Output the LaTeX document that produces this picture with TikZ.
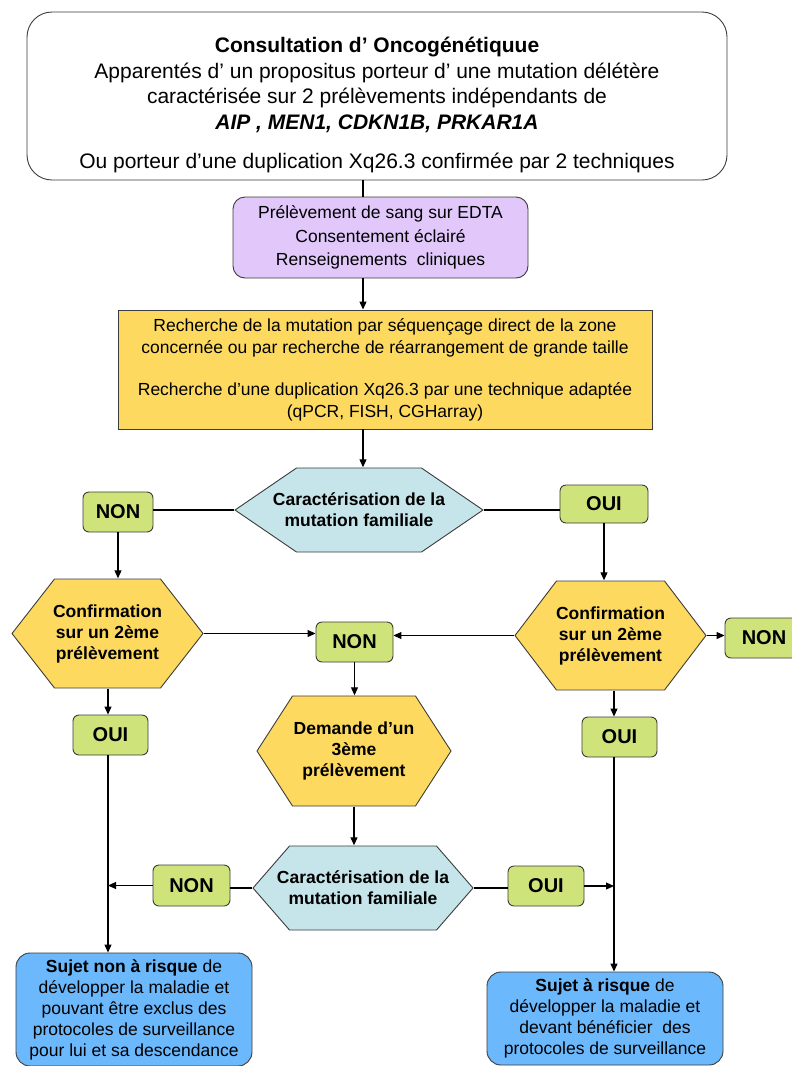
\documentclass[tikz,border=0pt]{standalone}
\usepackage{fontspec}
\setmainfont{Liberation Sans}
\usetikzlibrary{arrows.meta}

\definecolor{lavender}{RGB}{225,199,250}
\definecolor{gold}{RGB}{253,218,95}
\definecolor{paleblue}{RGB}{197,229,234}
\definecolor{lime}{RGB}{206,227,122}
\definecolor{skyblue}{RGB}{108,184,252}
\definecolor{edge}{RGB}{60,60,60}

\begin{document}
\begin{tikzpicture}[x=1pt,y=-1pt,
  box/.style={draw=edge, line width=0.9pt, align=center, inner sep=0pt},
  answer/.style={box, fill=lime, rounded corners=6pt, font=\fontsize{20}{24}\selectfont\bfseries},
  hexa/.style n args={4}{inner sep=0pt, align=center, minimum width=#1+1, minimum height=#2+1,
    font=\fontsize{17.5}{21}\selectfont\bfseries,
    path picture={\draw[draw=edge, line width=0.9pt, fill=#4]
      ([xshift=0.5pt]path picture bounding box.west)
      -- ([xshift=#3pt,yshift=-0.5pt]path picture bounding box.north west)
      -- ([xshift=-#3pt,yshift=-0.5pt]path picture bounding box.north east)
      -- ([xshift=-0.5pt]path picture bounding box.east)
      -- ([xshift=-#3pt,yshift=0.5pt]path picture bounding box.south east)
      -- ([xshift=#3pt,yshift=0.5pt]path picture bounding box.south west) -- cycle;}},
  link/.style={line width=1.1pt, -{Triangle[length=8pt,width=7pt]}},
  wire/.style={line width=1.1pt}]

\useasboundingbox (0,0) rectangle (792,1066);

\coordinate (spine) at (363,0);
\coordinate (lcol) at (108,0);
\coordinate (rcol) at (614,0);

% consultation
\node[box, rounded corners=25pt, minimum width=700, minimum height=168] (top) at (377,96) {};
\node[align=center, font=\fontsize{21}{25.5}\selectfont] (toptxt) at (377,105)
  {\textbf{Consultation d’ Oncogénétiquue}\\
   Apparentés d’ un propositus porteur d’ une mutation délétère\\
   caractérisée sur 2 prélèvements indépendants de\\
   \textbf{\textit{AIP , MEN1, CDKN1B, PRKAR1A}}\\[14pt]
   Ou porteur d’une duplication Xq26.3 confirmée par 2 techniques};

\node[box, fill=lavender, rounded corners=12pt, minimum width=295, minimum height=81,
  font=\fontsize{17.5}{23.5}\selectfont] (prel) at (380.5,237.5)
  {Prélèvement de sang sur EDTA\\ Consentement éclairé\\ Renseignements\ \ cliniques};

\node[box, fill=gold, minimum width=534, minimum height=119,
  font=\fontsize{17.5}{22}\selectfont] (rech) at (385,369.5)
  {Recherche de la mutation par séquençage direct de la zone\\
   concernée ou par recherche de réarrangement de grande taille\\[20pt]
   Recherche d’une duplication Xq26.3 par une technique adaptée\\
   (qPCR, FISH, CGHarray)};

% decisions
\node[hexa={248}{84}{62}{paleblue}] (carac1) at (359,510) {Caractérisation de la\\ mutation familiale};
\node[hexa={191}{109}{43}{gold}] (conf1) at (107.5,633.5) {Confirmation\\ sur un 2ème\\ prélèvement};
\node[hexa={191}{109}{42}{gold}] (conf2) at (610.5,635.5) {Confirmation\\ sur un 2ème\\ prélèvement};
\node[hexa={194}{110}{36}{gold}] (dem) at (354,751) {Demande d’un\\ 3ème\\ prélèvement};
\node[hexa={220}{84}{37}{paleblue}] (carac2) at (363,888) {Caractérisation de la\\ mutation familiale};

% answers
\node[answer, minimum width=70, minimum height=40] (non1) at (118,512) {NON};
\node[answer, minimum width=88, minimum height=38] (oui1) at (604,504) {OUI};
\node[answer, minimum width=77, minimum height=40] (non2) at (354.5,642) {NON};
\node[answer, minimum width=78, minimum height=40] (non3) at (764,638) {NON};
\node[answer, minimum width=75, minimum height=40] (oui2) at (110.5,735) {OUI};
\node[answer, minimum width=75, minimum height=40] (oui3) at (619.5,737) {OUI};
\node[answer, minimum width=77, minimum height=41] (non4) at (191.5,885.5) {NON};
\node[answer, minimum width=76, minimum height=40] (oui4) at (546,886) {OUI};

% outcomes
\node[box, fill=skyblue, rounded corners=14pt, minimum width=236, minimum height=113,
  font=\fontsize{17.5}{21}\selectfont] (nonrisk) at (134,1009.5)
  {\textbf{Sujet non à risque} de\\ développer la maladie et\\ pouvant être exclus des\\
   protocoles de surveillance\\ pour lui et sa descendance};
\node[box, fill=skyblue, rounded corners=14pt, minimum width=236, minimum height=93,
  font=\fontsize{17.5}{21}\selectfont] (risk) at (605,1018.5)
  {\textbf{Sujet à risque} de\\ développer la maladie et\\ devant bénéficier\ \ des\\
   protocoles de surveillance};

% connectors
\draw[wire] (top.south -| spine) -- (prel.north -| spine);
\draw[link] (prel.south -| spine) -- (rech.north -| spine);
\draw[link] (rech.south -| spine) -- (carac1.north -| spine);
\draw[wire] (carac1.west) -- (carac1.west -| non1.east);
\draw[wire] (carac1.east) -- (carac1.east -| oui1.west);
\draw[link] (non1.south) -- (non1.south |- conf1.north);
\draw[link] (oui1.south) -- (oui1.south |- conf2.north);
\draw[link] (conf1.east) -- (conf1.east -| non2.west);
\draw[link] (conf2.west) -- (conf2.west -| non2.east);
\draw[link] (conf2.east) -- (conf2.east -| non3.west);
\draw[link] (conf1.south -| lcol) -- (oui2.north -| lcol);
\draw[link] (conf2.south -| rcol) -- (oui3.north -| rcol);
\draw[link] (non2.south) -- (non2.south |- dem.north);
\draw[link] (dem.south) -- (dem.south |- carac2.north);
\draw[wire] (carac2.west) -- (carac2.west -| non4.east);
\draw[wire] (carac2.east) -- (carac2.east -| oui4.west);
\draw[link] (non4.west) -- (non4.west -| lcol);
\draw[link] (oui4.east) -- (oui4.east -| rcol);
\draw[link] (oui2.south -| lcol) -- (nonrisk.north -| lcol);
\draw[link] (oui3.south -| rcol) -- (risk.north -| rcol);

\end{tikzpicture}
\end{document}
